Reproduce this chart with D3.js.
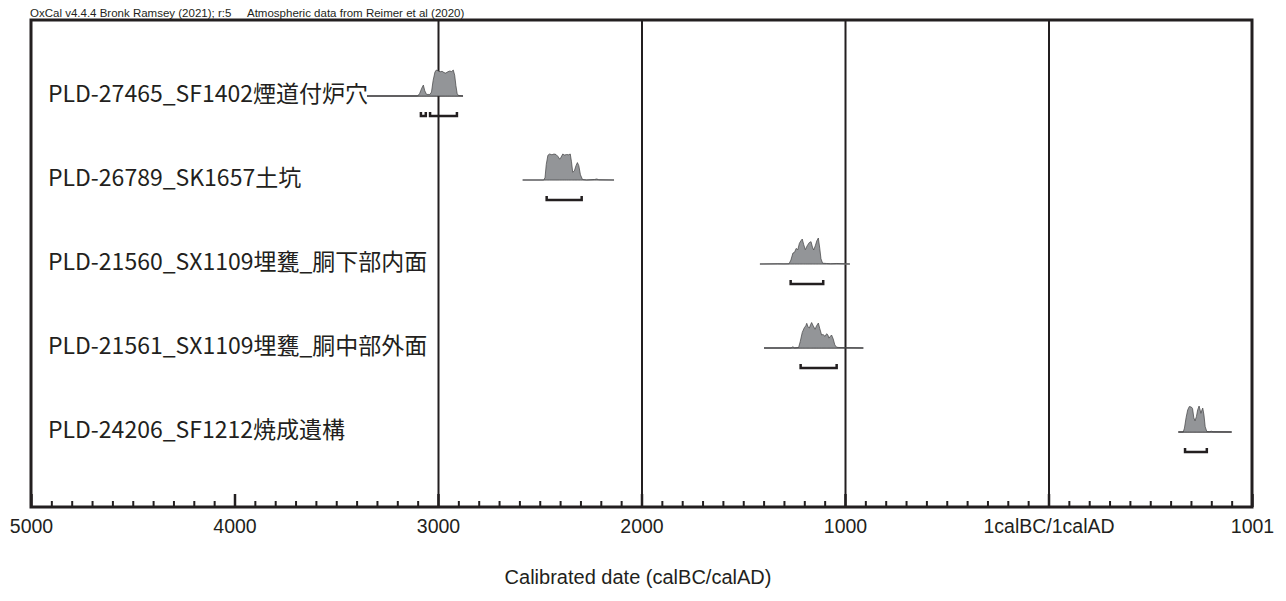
<!DOCTYPE html>
<html>
<head>
<meta charset="utf-8">
<script src="https://cdn.jsdelivr.net/npm/d3@7"></script>
<style>
  html, body { margin: 0; padding: 0; background: #fff; }
  svg { display: block; }
</style>
</head>
<body>
<svg id="chart" width="1286" height="601"></svg>
<script>
// Sample names, top to bottom
const sampleNames = [
  "PLD-27465_SF1402煙道付炉穴",
  "PLD-26789_SK1657土坑",
  "PLD-21560_SX1109埋甕_胴下部内面",
  "PLD-21561_SX1109埋甕_胴中部外面",
  "PLD-24206_SF1212焼成遺構"
];

// Axis: years (BC negative, AD positive)
const tickYears = [-5000, -4000, -3000, -2000, -1000, 0, 1000];
const tickLabels = ["5000", "4000", "3000", "2000", "1000", "1calBC/1calAD", "1001"];
const gridYears = [-3000, -2000, -1000, 0];

// Extent of each sample's baseline (calendar years)
const baselineRanges = [
  [-3349, -2877],
  [-2584, -2135],
  [-1418, -976],
  [-1398, -910],
  [638, 900]
];

// Calibrated probability distributions: [year, relative probability]
const dist1 = [[-3349,0],[-3100,0],[-3090,0.1],[-3080,0.3],[-3072,0.42],[-3065,0.2],[-3056,0.06],[-3040,0.06],[-3032,0.15],[-3024,0.6],[-3015,0.92],[-3008,1.0],[-3000,0.97],[-2990,0.93],[-2980,0.95],[-2970,0.9],[-2962,0.88],[-2952,0.93],[-2942,0.96],[-2933,0.94],[-2925,1.0],[-2918,0.8],[-2912,0.4],[-2906,0.1],[-2900,0.02],[-2877,0]];
const dist2 = [[-2584,0],[-2480,0],[-2474,0.1],[-2468,0.6],[-2460,0.95],[-2452,1.0],[-2440,0.97],[-2430,1.0],[-2420,0.98],[-2410,0.9],[-2402,0.8],[-2395,0.88],[-2387,1.0],[-2378,0.96],[-2368,0.98],[-2358,0.97],[-2350,1.0],[-2344,0.7],[-2338,0.3],[-2330,0.35],[-2322,0.55],[-2315,0.67],[-2308,0.55],[-2300,0.2],[-2290,0.02],[-2270,0],[-2230,0.02],[-2220,0.04],[-2210,0.01],[-2135,0]];
const dist3 = [[-1418,0],[-1330,0.01],[-1300,0.005],[-1275,0.01],[-1266,0.15],[-1256,0.42],[-1248,0.45],[-1240,0.6],[-1232,0.55],[-1224,0.8],[-1216,0.9],[-1210,0.96],[-1203,0.75],[-1195,0.55],[-1186,0.7],[-1176,0.82],[-1167,0.86],[-1160,0.65],[-1154,0.54],[-1146,0.7],[-1138,0.9],[-1131,1.0],[-1124,0.6],[-1118,0.2],[-1110,0.03],[-1090,0.02],[-1070,0.01],[-1040,0.02],[-976,0]];
const dist4 = [[-1398,0],[-1265,0],[-1256,0.05],[-1248,0],[-1228,0.02],[-1220,0.25],[-1210,0.6],[-1200,0.78],[-1193,0.85],[-1188,0.95],[-1181,0.8],[-1175,0.77],[-1169,0.9],[-1164,0.98],[-1156,0.85],[-1147,0.72],[-1140,0.85],[-1131,0.96],[-1124,0.75],[-1115,0.5],[-1108,0.52],[-1098,0.45],[-1090,0.55],[-1084,0.5],[-1079,0.38],[-1072,0.45],[-1066,0.5],[-1058,0.35],[-1050,0.12],[-1041,0.03],[-1030,0.02],[-910,0]];
const dist5 = [[638,0],[662,0],[668,0.15],[676,0.55],[684,0.85],[692,0.98],[702,0.96],[708,0.9],[714,0.55],[720,0.43],[727,0.6],[733,0.85],[740,1.0],[745,0.85],[749,0.72],[754,0.85],[758,0.92],[764,0.65],[770,0.2],[778,0.02],[790,0.01],[800,0.03],[808,0.01],[900,0]];
const distributions = [dist1, dist2, dist3, dist4, dist5];

// 95.4% highest probability ranges
const ranges1 = [[-3084, -3060], [-3039, -2907]];
const ranges2 = [[-2466, -2294]];
const ranges3 = [[-1267, -1107]];
const ranges4 = [[-1218, -1041]];
const ranges5 = [[671, 778]];
const hpdRanges = [ranges1, ranges2, ranges3, ranges4, ranges5];

// ---- drawing ----
const ink = "#231f20";
const baselineColors = [ink, "#c4c4c4", "#c4c4c4", "#414042", ink];

const svg = d3.select("#chart");
const plot = { left: 31, right: 1252, top: 20, bottom: 507 };

const x = d3.scaleLinear().domain([-5000, 1000]).range([plot.left, plot.right]);
const row = d3.scalePoint().domain(sampleNames).range([96, 432]);
const peak = 26;   // pixel height of a distribution's maximum
const hy = d3.scaleLinear().domain([0, 1]).range([0, peak]);

// header
const headerFont = { family: "Liberation Sans, Arial, sans-serif", size: 11.5 };
svg.append("text")
  .attr("x", 30).attr("y", 17)
  .attr("font-family", headerFont.family)
  .attr("font-size", headerFont.size).attr("fill", ink)
  .text("OxCal v4.4.4 Bronk Ramsey (2021); r:5");
svg.append("text")
  .attr("x", 247).attr("y", 17)
  .attr("font-family", headerFont.family)
  .attr("font-size", headerFont.size).attr("fill", ink)
  .text("Atmospheric data from Reimer et al (2020)");

// vertical reference lines
const grid = d3.axisBottom(x).tickValues(gridYears).tickSize(plot.bottom - plot.top).tickFormat("");
svg.append("g")
  .attr("transform", `translate(0,${plot.top})`)
  .call(grid)
  .call(g => g.select(".domain").remove())
  .call(g => g.selectAll(".tick line").attr("stroke", ink).attr("stroke-width", 2));

// distributions
const rows = svg.selectAll("g.sample").data(sampleNames).join("g")
  .attr("class", "sample")
  .attr("transform", d => `translate(0,${row(d)})`);

rows.append("line")
  .attr("x1", (d, i) => x(baselineRanges[i][0]))
  .attr("x2", (d, i) => x(baselineRanges[i][1]))
  .attr("y1", 0).attr("y2", 0)
  .attr("stroke", (d, i) => baselineColors[i])
  .attr("stroke-width", 1.2);

const area = d3.area().x(d => x(d[0])).y0(0).y1(d => -hy(d[1]));
rows.append("path")
  .attr("d", (d, i) => area(distributions[i]))
  .attr("fill", "#939598")
  .attr("stroke", "#414042")
  .attr("stroke-width", 0.7)
  .attr("stroke-linejoin", "round");

// range brackets
const bracketY = 20, bracketTick = 4;
rows.each(function (d, i) {
  d3.select(this).selectAll("path.hpd").data(hpdRanges[i]).join("path")
    .attr("class", "hpd")
    .attr("d", r => `M${x(r[0])},${bracketY - bracketTick}V${bracketY}H${x(r[1])}V${bracketY - bracketTick}`)
    .attr("fill", "none")
    .attr("stroke", ink)
    .attr("stroke-width", 2.5);
});

// sample labels
rows.append("text")
  .attr("x", 48).attr("y", 6)
  .attr("font-family", "Noto Sans CJK JP, sans-serif")
  .attr("font-size", 23)
  .attr("fill", ink)
  .text(d => d);

// bottom axis: minor ticks every 100 years, major every 1000
const minorYears = d3.range(-5000, 1001, 100).filter(v => v % 1000 !== 0);
svg.append("g")
  .attr("transform", `translate(0,${plot.bottom})`)
  .call(d3.axisBottom(x).tickValues(minorYears).tickSize(-6).tickFormat(""))
  .call(g => g.select(".domain").remove())
  .call(g => g.selectAll(".tick line").attr("stroke", ink).attr("stroke-width", 2));

svg.append("g")
  .attr("transform", `translate(0,${plot.bottom})`)
  .call(d3.axisBottom(x).tickValues(tickYears).tickSize(-13).tickPadding(12)
    .tickFormat((v, i) => tickLabels[i]))
  .call(g => g.select(".domain").remove())
  .call(g => g.selectAll(".tick line").attr("stroke", ink).attr("stroke-width", 2.5))
  .call(g => g.selectAll(".tick text")
    .attr("font-family", "Liberation Sans, Arial, sans-serif")
    .attr("font-size", 19.5).attr("fill", ink));

// frame
svg.append("rect")
  .attr("x", plot.left).attr("y", plot.top)
  .attr("width", plot.right - plot.left).attr("height", plot.bottom - plot.top)
  .attr("fill", "none").attr("stroke", ink).attr("stroke-width", 3);

// axis title
svg.append("text")
  .attr("x", 638).attr("y", 584)
  .attr("text-anchor", "middle")
  .attr("font-family", "Liberation Sans, Arial, sans-serif")
  .attr("font-size", 20).attr("fill", ink)
  .text("Calibrated date (calBC/calAD)");
</script>
</body>
</html>
